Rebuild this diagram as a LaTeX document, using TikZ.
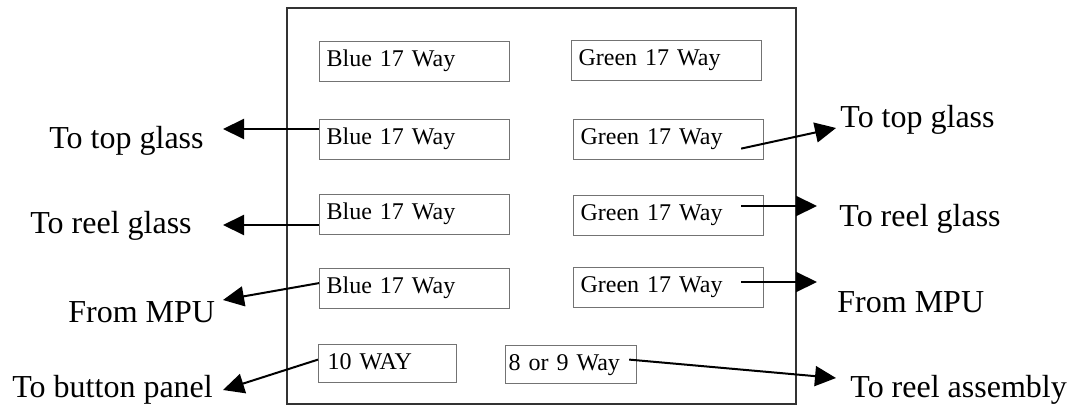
\documentclass[tikz,border=0pt]{standalone}
\usepackage{fontspec}
\setmainfont{Liberation Serif}
\usetikzlibrary{arrows.meta,calc}
\begin{document}
\begin{tikzpicture}[x=0.5pt,y=-0.5pt,
	box/.style={draw=black!55,line width=0.6pt,anchor=north west,align=left,
		inner xsep=3.5pt,inner ysep=0pt,text width=88pt,
		text height=12.5pt,text depth=7.5pt,font=\fontsize{12}{14}\selectfont},
	lbl/.style={inner sep=0pt,font=\fontsize{16}{19}\selectfont},
	wire/.style={line width=1pt,-{Triangle[length=10.5pt,width=10pt]}}]
\useasboundingbox (0,0) rectangle (1079,411);
\draw[black!80,line width=0.6pt] (287,8) rectangle (796,404);
% connectors on the board
\node[box] (b1) at (319,41) {Blue 17 Way};
\node[box] (g1) at (571,40) {Green 17 Way};
\node[box] (b2) at (319,119) {Blue 17 Way};
\node[box] (g2) at (573,119) {Green 17 Way};
\node[box] (b3) at (319,194) {Blue 17 Way};
\node[box] (g3) at (573,195) {Green 17 Way};
\node[box] (b4) at (319,268) {Blue 17 Way};
\node[box] (g4) at (573,267) {Green 17 Way};
\node[box,text width=60pt,inner xsep=4.5pt,text depth=6.5pt] (w10) at (318,344) {10 WAY};
\node[box,text width=62.5pt,inner xsep=1.5pt,text depth=6.5pt] (w8) at (505,345) {8 or 9 Way};
% labels
\node[lbl,anchor=base east] (ltop) at (204,149) {To top glass};
\node[lbl,anchor=base west] (lreel) at (30,233) {To reel glass};
\node[lbl,anchor=base west] (lmpu) at (68,322) {From MPU};
\node[lbl,anchor=base west] (lbut) at (12,397) {To button panel};
\node[lbl,anchor=base west] (rtop) at (840,128) {To top glass};
\node[lbl,anchor=base west] (rreel) at (839,226) {To reel glass};
\node[lbl,anchor=base west] (rmpu) at (837,312) {From MPU};
\node[lbl,anchor=base west] (rass) at (850,397) {To reel assembly};
\coordinate (tl1) at (223,129);
\coordinate (tl2) at (223,225);
\coordinate (tl3) at (223,300);
\coordinate (tl4) at (223,390);
\coordinate (tr1) at (836,128);
\coordinate (tr2) at (817,206);
\coordinate (tr3) at (817,282);
\coordinate (tr4) at (836,378);
% wires
\draw[wire] (b2.west |- tl1) -- (tl1);
\draw[wire] (b3.west |- tl2) -- (tl2);
\draw[wire] ($(b4.west)+(0,-5.5)$) -- (tl3);
\draw[wire] ($(w10.west)+(0,-4)$) -- (tl4);
\draw[wire] ($(g2.east)+(-23,9)$) -- (tr1);
\draw[wire] ($(tr2 -| g3.east)+(-23,0)$) -- (tr2);
\draw[wire] ($(tr3 -| g4.east)+(-23,0)$) -- (tr3);
\draw[wire] ($(w8.east)+(-8,-5)$) -- (tr4);
\end{tikzpicture}
\end{document}
